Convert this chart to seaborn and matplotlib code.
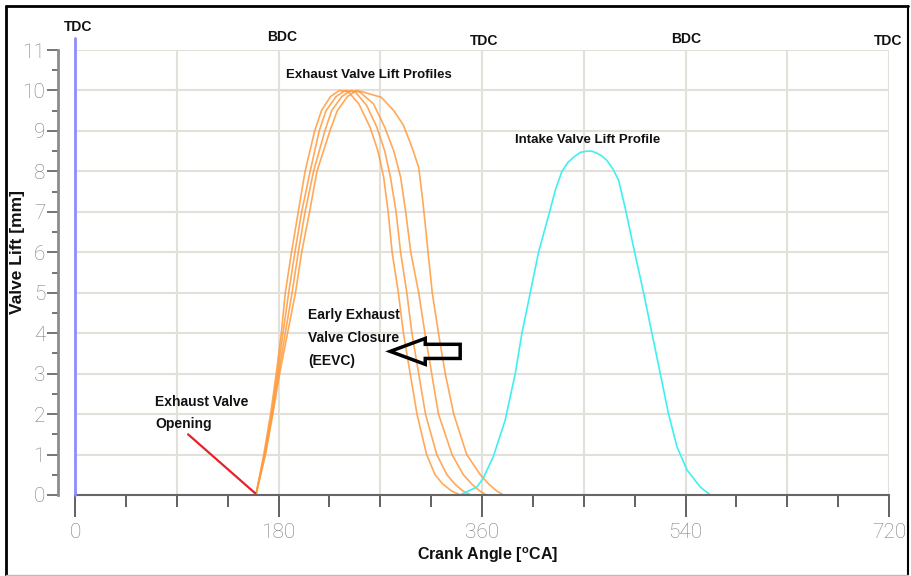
import numpy as np
import pandas as pd
import matplotlib
matplotlib.use('Agg')
import matplotlib.pyplot as plt
import seaborn as sns
from matplotlib.lines import Line2D
from matplotlib.patches import FancyArrow
from matplotlib.ticker import MultipleLocator, FixedLocator

# ---------------- data ----------------
exh_a_angle = [160, 167, 173, 178, 182.5, 186, 191.5, 197.5, 203.5, 212, 218, 226, 234, 242, 251, 261, 268, 273, 277, 280.5, 286, 290.5, 296.5, 302.5, 311, 318.5, 325, 333, 341]
exh_a_lift = [0, 1, 2, 3, 4, 5, 6, 7, 8, 9, 9.5, 9.85, 10, 9.96, 9.67, 9.09, 8.5, 7.86, 7, 6, 5, 4, 3, 2, 1, 0.5, 0.28, 0.1, 0]

exh_b_angle = [160, 167.5, 174, 179, 184, 189, 194.5, 200.5, 208, 216, 222, 231, 239, 248, 258, 267, 274, 279, 284, 288, 293.5, 298, 304, 310, 320, 329, 336, 343, 350]
exh_b_lift = [0, 1, 2, 3, 4, 5, 6, 7, 8, 9, 9.5, 9.85, 10, 9.96, 9.63, 9.09, 8.5, 7.86, 7, 6, 5, 4, 3, 2, 1, 0.5, 0.27, 0.1, 0]

exh_c_angle = [160, 168, 174.5, 180, 186, 192, 197.5, 203.5, 211, 221, 227, 236, 244, 252, 264, 274, 282, 288, 292.5, 297, 304, 309.5, 315.5, 321.5, 333.5, 343.5, 351, 358, 364]
exh_c_lift = [0, 1, 2, 3, 4, 5, 6, 7, 8, 9, 9.5, 9.85, 10, 9.96, 9.67, 9.09, 8.5, 7.86, 7, 6, 5, 4, 3, 2, 1, 0.5, 0.27, 0.1, 0]

exh_d_angle = [160, 168.5, 175, 181, 188, 195, 200.5, 207.5, 214, 225.5, 232, 241, 249, 255, 271, 282, 290.5, 298, 304, 307.5, 310.5, 313, 316, 321.5, 327.5, 335, 346.5, 358.5, 366, 373, 379]
exh_d_lift = [0, 1, 2, 3, 4, 5, 6, 7, 8, 9, 9.5, 9.85, 10, 9.96, 9.83, 9.5, 9.14, 8.6, 8.1, 7.3, 6.5, 5.8, 5, 4, 3, 2, 1, 0.5, 0.27, 0.1, 0]

intake_angle = [340.7, 355.5, 361, 370, 380.5, 389.4, 395.3, 402.7, 410, 419.8, 425, 430.7, 436, 441, 447, 452.8, 457, 461.7, 466, 470.5, 476, 480.8, 486.7, 494, 502.9, 510.3, 517.7, 525, 532.5, 541.3, 553, 562]
intake_lift = [0, 0.2, 0.41, 0.95, 1.85, 3.0, 4.0, 5.0, 6.0, 7.0, 7.55, 8.0, 8.22, 8.35, 8.47, 8.5, 8.5, 8.45, 8.38, 8.27, 8.05, 7.78, 7.09, 6.13, 5.0, 4.0, 3.0, 2.0, 1.19, 0.62, 0.2, 0]

x_ticks = [0, 180, 360, 540, 720]
x_tick_labels = ['0', '180', '360', '540', '720']
y_ticks = list(range(0, 12))
x_grid = [90, 180, 270, 360, 450, 540, 630, 720]
dead_centres = ['TDC', 'BDC', 'TDC', 'BDC', 'TDC']
dead_centre_angles = [2.7, 183, 362, 540.5, 719.5]
dead_centre_heights = [11.56, 11.31, 11.23, 11.28, 11.23]

curves = [('Exhaust A', exh_a_angle, exh_a_lift), ('Exhaust B', exh_b_angle, exh_b_lift),
          ('Exhaust C', exh_c_angle, exh_c_lift), ('Exhaust D', exh_d_angle, exh_d_lift),
          ('Intake', intake_angle, intake_lift)]
rows = []
for name, xs, ys in curves:
    for i, (xv, yv) in enumerate(zip(xs, ys)):
        rows.append({'curve': name, 'order': i, 'angle': xv, 'lift': yv})
df = pd.DataFrame(rows)

palette = {'Exhaust A': '#ff9a3c', 'Exhaust B': '#ff9a3c', 'Exhaust C': '#ff9a3c',
           'Exhaust D': '#ff9a3c', 'Intake': '#3ff0f0'}

# ---------------- style ----------------
sns.set_theme(style='white')
plt.rcParams['font.family'] = ['Liberation Sans', 'DejaVu Sans']
plt.rcParams['font.weight'] = 'light'
plt.rcParams['mathtext.fontset'] = 'custom'
plt.rcParams['mathtext.rm'] = 'Liberation Sans:bold'
plt.rcParams['mathtext.it'] = 'Liberation Sans:bold'
plt.rcParams['mathtext.bf'] = 'Liberation Sans:bold'

fig = plt.figure(figsize=(9.11, 5.76), dpi=100)
fig.patch.set_facecolor('white')
ax = fig.add_axes([75 / 911, 81 / 576, 814 / 911, 445 / 576])

ax.vlines(x_grid, 0, 11, color='#e3e0d9', lw=1.5, zorder=0)
ax.yaxis.grid(True, which='major', color='#e3e0d9', lw=1.5, zorder=0)
ax.set_axisbelow(True)

for name, xs, ys in curves:
    sub = df[df['curve'] == name]
    sns.lineplot(data=sub, x='angle', y='lift', sort=False, estimator=None,
                 color=palette[name], lw=1.2, alpha=0.85 if name != 'Intake' else 1.0, ax=ax)

ax.set_xlim(0, 720)
ax.set_ylim(0, 11)
ax.set_xlabel('')
ax.set_ylabel('')

# TDC blue line
ax.plot([0, 0], [0, 11.3], color='#8c8cff', lw=2, clip_on=False, zorder=3)

# ticks
ax.xaxis.set_major_locator(FixedLocator(x_ticks))
ax.set_xticklabels(x_tick_labels)
ax.xaxis.set_minor_locator(MultipleLocator(45))
ax.yaxis.set_major_locator(FixedLocator(y_ticks))
ax.yaxis.set_minor_locator(MultipleLocator(0.5))
ax.tick_params(axis='x', which='major', length=16, width=1.3, direction='out', color='#555555', pad=4,
               labelcolor='#7c7c7c', bottom=True, labelsize=15, labelfontfamily='Roboto')
ax.tick_params(axis='x', which='minor', length=8.5, width=1.3, direction='out', color='#555555', bottom=True)
ax.tick_params(axis='y', which='major', length=8, width=1.3, direction='out', color='#6a6a6a', pad=1.5,
               labelcolor='#7c7c7c', left=True, labelsize=15, labelfontfamily='Roboto')
ax.tick_params(axis='y', which='minor', length=4, width=1.3, direction='out', color='#6a6a6a', left=True)

for s in ['top', 'right']:
    ax.spines[s].set_visible(False)
ax.spines['left'].set_position(('outward', 12))
ax.spines['left'].set_color('#8c8c8c')
ax.spines['left'].set_linewidth(2)
ax.spines['bottom'].set_color('#666666')
ax.spines['bottom'].set_linewidth(1.5)

# TDC / BDC labels
for lab, xa, ya in zip(dead_centres, dead_centre_angles, dead_centre_heights):
    ax.text(xa, ya, lab, ha='center', va='center', fontsize=10, fontweight='bold',
            color='#111111', clip_on=False)

ax.text(260, 10.37, 'Exhaust Valve Lift Profiles', ha='center', va='center', fontsize=9.5,
        fontweight='bold', color='#111111')
ax.text(453, 8.77, 'Intake Valve Lift Profile', ha='center', va='center', fontsize=9.5,
        fontweight='bold', color='#111111')
ax.text(206, 4.62, 'Early Exhaust\nValve Closure\n(EEVC)', ha='left', va='top', fontsize=10,
        fontweight='bold', color='#111111', linespacing=1.8)
ax.text(70.8, 2.47, 'Exhaust Valve\nOpening', ha='left', va='top', fontsize=10,
        fontweight='bold', color='#111111', linespacing=1.72)
ax.plot([100, 159.5], [1.5, 0.04], color='#e8202a', lw=1.6, zorder=4)

arrow = FancyArrow(340.7, 3.55, -61.9, 0, width=0.35, head_width=0.64, head_length=31,
                   length_includes_head=True, facecolor='none', edgecolor='black', lw=2.5, zorder=5)
ax.add_patch(arrow)

fig.text(18 / 911, 1 - 252 / 576, 'Valve Lift [mm]', rotation=90, ha='center', va='center',
         fontsize=12.5, fontweight='bold', color='#111111')
fig.text(488 / 911, 1 - 555 / 576, r'Crank Angle [$^{\mathrm{o}}$CA]', ha='center', va='center',
         fontsize=11.5, fontweight='bold', color='#111111')

# figure frame
fig.add_artist(Line2D([5.5 / 911, 5.5 / 911], [1 / 576, 1 - 5.5 / 576], transform=fig.transFigure, color='black', lw=2))
fig.add_artist(Line2D([5.5 / 911, 908 / 911], [1 - 5.5 / 576, 1 - 5.5 / 576], transform=fig.transFigure, color='black', lw=2))
fig.add_artist(Line2D([908 / 911, 908 / 911], [1 / 576, 1 - 5.5 / 576], transform=fig.transFigure, color='black', lw=1.5))
fig.add_artist(Line2D([5.5 / 911, 908 / 911], [1 / 576, 1 / 576], transform=fig.transFigure, color='#bbbbbb', lw=1))

fig.savefig('out.png', dpi=100)
